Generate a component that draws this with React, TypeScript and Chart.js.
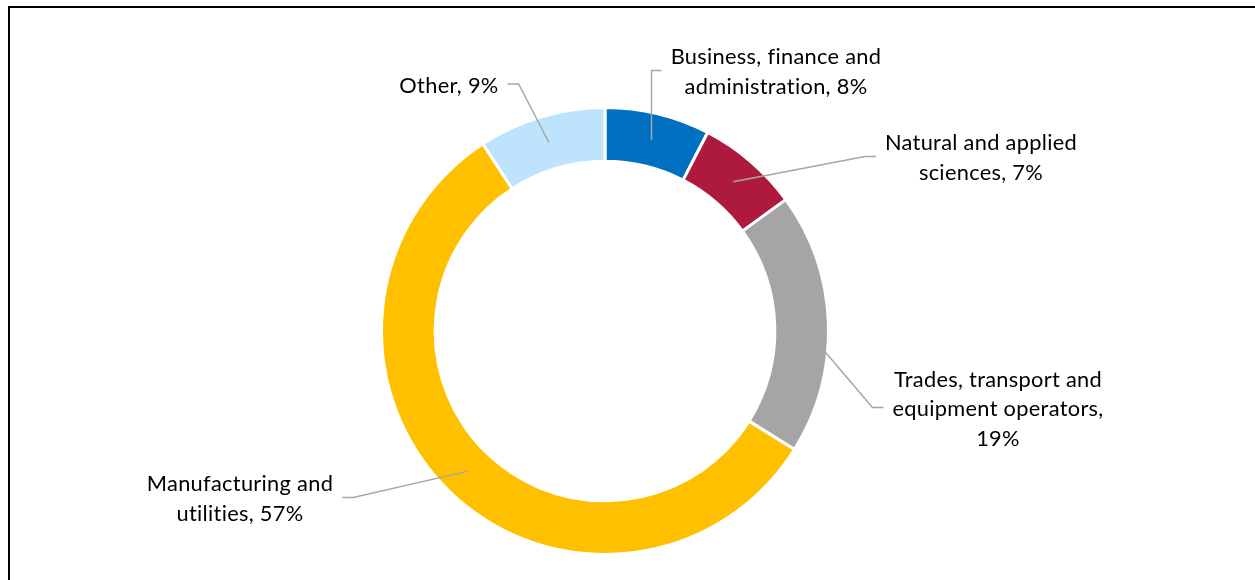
import React, { useEffect, useRef } from "react";
import { Chart, registerables } from "chart.js";

Chart.register(...registerables);

const categories: string[][] = [
  ["Business, finance and", "administration,"],
  ["Natural and applied", "sciences,"],
  ["Trades, transport and", "equipment operators,", ""],
  ["Manufacturing and", "utilities,"],
  ["Other,"],
];
const shares: number[] = [7.6, 7.4, 18.9, 56.9, 9.2];
const colors: string[] = ["#0070C0", "#AE1A3E", "#A5A5A5", "#FFC000", "#BEE3FC"];

// label block centres relative to the doughnut centre, and which side the leader meets
const labelOffsets = [
  { dx: 171, dy: -259, side: "left", vertical: true },
  { dx: 376, dy: -173, side: "left", vertical: false },
  { dx: 393, dy: 78, side: "left", vertical: false },
  { dx: -365, dy: 168, side: "right", vertical: false },
  { dx: -156, dy: -245.5, side: "right", vertical: false },
];

const FONT = "21.8px Lato";
const LINE_H = 29.5;

function buildLines(i: number): string[] {
  const pct = Math.round(shares[i]) + "%";
  const parts = categories[i].slice();
  const last = parts.length - 1;
  if (parts[last] === "") parts[last] = pct;
  else parts[last] = parts[last] + " " + pct;
  return parts;
}

const labelPlugin = {
  id: "leaderLabels",
  afterDraw(chart: any) {
    const ctx = chart.ctx as CanvasRenderingContext2D;
    const meta = chart.getDatasetMeta(0);
    ctx.save();
    ctx.font = FONT;
    try {
      (ctx as any).letterSpacing = "0.3px";
    } catch (e) {}
    ctx.textAlign = "center";
    ctx.textBaseline = "middle";
    meta.data.forEach((arc: any, i: number) => {
      const p = arc.getProps(["x", "y", "startAngle", "endAngle", "innerRadius", "outerRadius"], true);
      const mid = (p.startAngle + p.endAngle) / 2;
      const r = (p.innerRadius + p.outerRadius) / 2;
      const ax = p.x + Math.cos(mid) * r;
      const ay = p.y + Math.sin(mid) * r;
      const lay = labelOffsets[i];
      const cx = p.x + lay.dx;
      const cy = p.y + lay.dy;
      const lines = buildLines(i);
      const w = Math.max(...lines.map((l) => ctx.measureText(l).width));
      const ly = cy - 1.5;
      const ex = lay.side === "left" ? cx - w / 2 - 9 : cx + w / 2 + 9;
      let elx: number;
      if (lay.vertical) elx = ax;
      else elx = lay.side === "left" ? ex - 11 : ex + 11;
      ctx.strokeStyle = "#A6A6A6";
      ctx.lineWidth = 1.5;
      ctx.beginPath();
      ctx.moveTo(ax, ay);
      ctx.lineTo(elx, ly);
      ctx.lineTo(ex, ly);
      ctx.stroke();
      ctx.fillStyle = "#000000";
      const top = cy - ((lines.length - 1) * LINE_H) / 2;
      lines.forEach((l, k) => ctx.fillText(l, cx, top + k * LINE_H));
    });
    ctx.restore();
  },
};

export default function App() {
  const ref = useRef<HTMLCanvasElement | null>(null);
  useEffect(() => {
    if (!ref.current) return;
    const chart = new Chart(ref.current, {
      type: "doughnut",
      data: {
        labels: categories.map((c) => c.join(" ")),
        datasets: [
          {
            data: shares,
            backgroundColor: colors,
            borderColor: "#FFFFFF",
            borderWidth: 3,
            hoverOffset: 0,
          },
        ],
      },
      options: {
        responsive: false,
        animation: false,
        cutout: "76%",
        layout: { padding: { left: 380, right: 425, top: 105, bottom: 23 } },
        plugins: { legend: { display: false }, tooltip: { enabled: false } },
        events: [],
      },
      plugins: [labelPlugin],
    });
    return () => chart.destroy();
  }, []);
  return (
    <div style={{ position: "fixed", left: 0, top: 0, width: 1255, height: 580, overflow: "hidden", background: "#fff" }}>
      <div
        style={{
          position: "absolute",
          left: 8,
          top: 6,
          width: 1400,
          height: 800,
          border: "2px solid #000",
        }}
      />
      <canvas ref={ref} width={1255} height={580} style={{ position: "absolute", left: 0, top: 0 }} />
    </div>
  );
}
